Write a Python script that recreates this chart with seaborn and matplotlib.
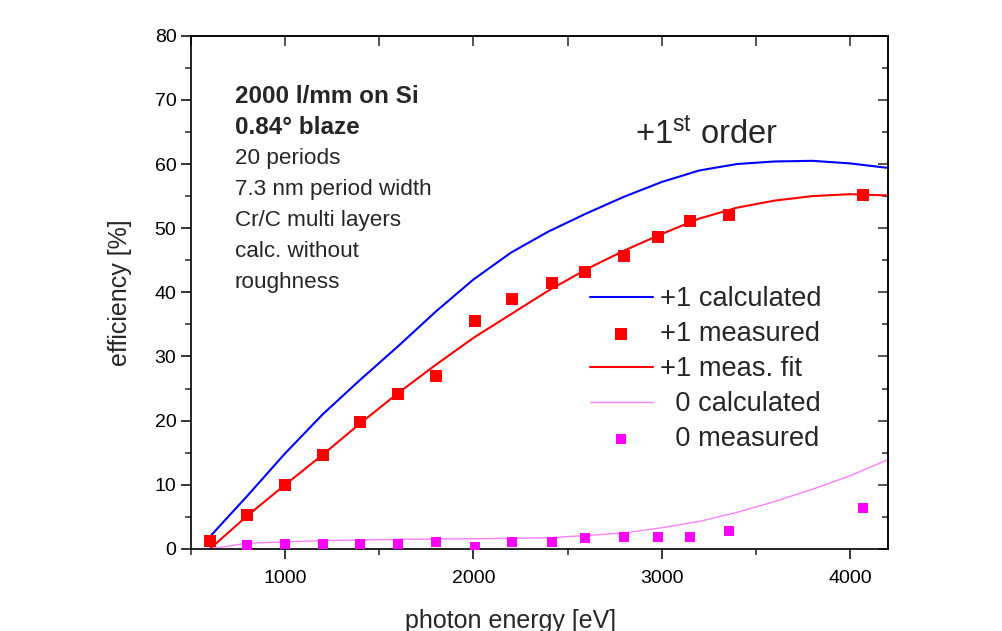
import numpy as np
import pandas as pd
import matplotlib
matplotlib.use("Agg")
import matplotlib.pyplot as plt
from matplotlib.ticker import MultipleLocator
import seaborn as sns

# ---- data ----
calc_energy = [600, 800, 1000, 1200, 1400, 1600, 1800, 2000, 2200, 2400, 2600,
               2800, 3000, 3200, 3400, 3600, 3800, 4000, 4200]
calc_plus1 = [1.9, 8.3, 14.9, 21.0, 26.4, 31.6, 37.0, 42.0, 46.2, 49.5, 52.3,
              54.9, 57.2, 59.0, 60.0, 60.4, 60.5, 60.1, 59.4]
fit_plus1 = [0.0, 5.2, 10.0, 14.7, 19.6, 24.3, 28.7, 32.9, 36.6, 40.3, 43.6,
             46.5, 49.1, 51.5, 53.2, 54.3, 55.0, 55.3, 55.1]
calc_zero = [0.0, 0.9, 1.1, 1.3, 1.4, 1.5, 1.55, 1.6, 1.65, 1.75, 2.1,
             2.5, 3.3, 4.3, 5.7, 7.4, 9.3, 11.4, 13.9]

meas_energy = [600, 800, 1000, 1200, 1400, 1600, 1800, 2010, 2205, 2415, 2590,
               2800, 2978, 3152, 3355, 4070]
meas_plus1 = [1.3, 5.3, 9.9, 14.6, 19.8, 24.1, 27.0, 35.6, 39.0, 41.4, 43.2,
              45.7, 48.7, 51.1, 52.1, 55.1]
meas_zero_energy = [800, 1000, 1200, 1400, 1600, 1800, 2010, 2205, 2415, 2590,
                    2800, 2978, 3152, 3355, 4070]
meas_zero = [0.6, 0.7, 0.75, 0.75, 0.85, 1.05, 0.3, 1.05, 1.05, 1.65,
             1.9, 1.9, 1.9, 2.85, 6.4]

x_ticks = [1000, 2000, 3000, 4000]
y_ticks = [0, 10, 20, 30, 40, 50, 60, 70, 80]

info_lines = ["2000 l/mm on Si", "0.84° blaze", "20 periods",
              "7.3 nm period width", "Cr/C multi layers", "calc. without",
              "roughness"]
legend_labels = ["+1 calculated", "+1 measured", "+1 meas. fit",
                 "  0 calculated", "  0 measured"]

# ---- style ----
sns.set_style("ticks")
plt.rcParams["font.family"] = ["Liberation Sans", "DejaVu Sans"]
plt.rcParams["mathtext.fontset"] = "custom"
plt.rcParams["mathtext.rm"] = "Liberation Sans"
plt.rcParams["mathtext.it"] = "Liberation Sans:italic"
plt.rcParams["mathtext.bf"] = "Liberation Sans:bold"

fig = plt.figure(figsize=(10.03, 6.31), dpi=100)
ax = fig.add_axes([0.1904, 0.130, 0.6946, 0.8134])

sns.lineplot(x=calc_energy, y=calc_plus1, ax=ax, color="#0000ff", linewidth=1.5,
             label=legend_labels[0], sort=False, estimator=None)
sns.scatterplot(x=meas_energy, y=meas_plus1, ax=ax, color="#ff0000", marker="s",
                s=66, linewidth=0, label=legend_labels[1], zorder=3)
sns.lineplot(x=calc_energy, y=fit_plus1, ax=ax, color="#ff0000", linewidth=1.5,
             label=legend_labels[2], sort=False, estimator=None)
sns.lineplot(x=calc_energy, y=calc_zero, ax=ax, color="#ff80ff", linewidth=1.0,
             label=legend_labels[3], sort=False, estimator=None)
sns.scatterplot(x=meas_zero_energy, y=meas_zero, ax=ax, color="#ff00ff", marker="s",
                s=60, linewidth=0, label=legend_labels[4], zorder=3)

ax.set_xlim(500, 4200)
ax.set_ylim(0, 80)
ax.set_xticks(x_ticks)
ax.set_yticks(y_ticks)
ax.xaxis.set_minor_locator(MultipleLocator(500))
ax.yaxis.set_minor_locator(MultipleLocator(5))

for sp in ax.spines.values():
    sp.set_visible(True)
    sp.set_linewidth(1.2)
    sp.set_color("black")

ax.tick_params(which="major", direction="out", length=7.5, width=1.1,
               labelsize=14, colors="black")
ax.tick_params(axis="x", which="major", pad=8)
ax.tick_params(axis="y", which="major", pad=3)
ax.tick_params(which="minor", direction="out", length=4.0, width=1.1)

# top and right ticks pointing inward
top = ax.secondary_xaxis("top")
top.set_xticks(x_ticks)
top.xaxis.set_minor_locator(MultipleLocator(500))
top.tick_params(which="major", direction="in", length=7.5, width=1.1, labeltop=False)
top.tick_params(which="minor", direction="in", length=7.5, width=1.1)
top.spines["top"].set_linewidth(1.2)
right = ax.secondary_yaxis("right")
right.set_yticks(y_ticks)
right.yaxis.set_minor_locator(MultipleLocator(5))
right.tick_params(which="major", direction="in", length=7.5, width=1.1, labelright=False)
right.tick_params(which="minor", direction="in", length=4.2, width=1.1)
right.spines["right"].set_linewidth(1.2)

ax.set_xlabel("photon energy [eV]", fontsize=18, va="top")
ax.xaxis.set_label_coords(0.459, -0.117)
ax.set_ylabel("efficiency [%]", fontsize=18)
ax.yaxis.set_label_coords(-0.085, 0.5)

# annotations
y0 = 0.8825
dy = 31.0 / 513.3
for i, t in enumerate(info_lines):
    ax.text(0.063, y0 - i * dy, t, transform=ax.transAxes,
            fontsize=17.5 if i < 2 else 16.2,
            fontweight="bold" if i < 2 else "normal", va="center", ha="left")

ax.text(0.637, 0.806, "+1$^{\\mathrm{st}}$ order", transform=ax.transAxes,
        fontsize=23.5, va="center", ha="left")

handles, labels = ax.get_legend_handles_labels()
hmap = dict(zip(labels, handles))
leg = ax.legend([hmap[k] for k in legend_labels], legend_labels, loc="upper left",
                bbox_to_anchor=(0.557, 0.533), frameon=False, fontsize=19.6,
                handlelength=2.32, handletextpad=0.25, labelspacing=0.33,
                markerscale=1.0, borderaxespad=0)

fig.savefig("out.png", dpi=100)
